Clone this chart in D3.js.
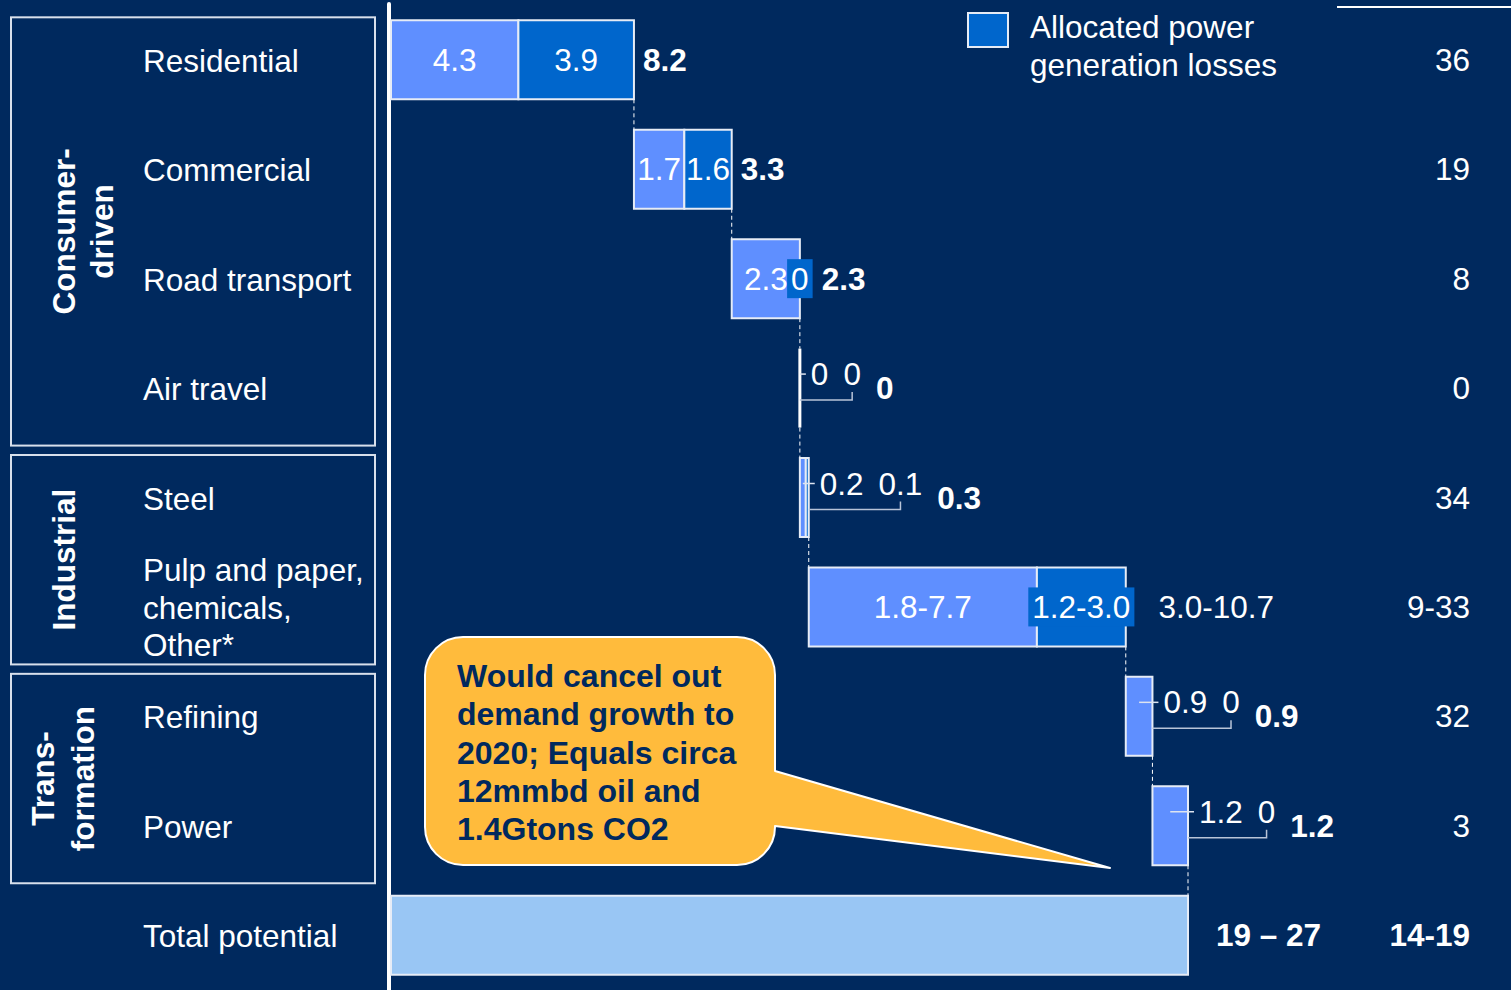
<!DOCTYPE html>
<html>
<head>
<meta charset="utf-8">
<script src="https://cdn.jsdelivr.net/npm/d3@7"></script>
<style>
  html, body { margin: 0; padding: 0; background: #00295E; overflow: hidden; }
  svg { display: block; }
  text { font-family: "Liberation Sans", Arial, Helvetica, sans-serif; }
</style>
</head>
<body>
<svg id="chart" width="1511" height="990"></svg>
<script>
// ---- data ----
const categories = [
  "Residential", "Commercial", "Road transport", "Air travel", "Steel",
  "Pulp and paper,\nchemicals,\nOther*", "Refining", "Power"
];
const directValues    = [4.3, 1.7, 2.3, 0, 0.2, 7.7, 0.9, 1.2];
const directLabels    = ["4.3", "1.7", "2.3", "0", "0.2", "1.8-7.7", "0.9", "1.2"];
const powerLossValues = [3.9, 1.6, 0, 0, 0.1, 3.0, 0, 0];
const powerLossLabels = ["3.9", "1.6", "0", "0", "0.1", "1.2-3.0", "0", "0"];
const rowTotalLabels  = ["8.2", "3.3", "2.3", "0", "0.3", "3.0-10.7", "0.9", "1.2"];
const rightColumn     = ["36", "19", "8", "0", "34", "9-33", "32", "3"];
const totalCategory   = "Total potential";
const totalLabel      = "19 \u2013 27";
const totalRight      = "14-19";
const groupNames      = [["Consumer-", "driven"], ["Industrial"], ["Trans-", "formation"]];
const groupRows       = [[0, 3], [4, 5], [6, 7]];
const legendLines     = ["Allocated power", "generation losses"];
const calloutLines    = ["Would cancel out", "demand growth to", "2020; Equals circa", "12mmbd oil and", "1.4Gtons CO2"];

// ---- styling / layout ----
const BG = "#00295E", LIGHT = "#5F8FFF", DARK = "#0066CC", TOTAL = "#99C6F4";
const CALLOUT = "#FFBB3C", EDGE = "#E6ECF6", FS = 31.5, CALLOUT_FS = 32;
const groupLabelBaselines = [[75, 113], [75], [54, 94]];

const svg = d3.select("#chart");
svg.append("rect").attr("width", 1511).attr("height", 990).attr("fill", BG);

// cumulative starts of the waterfall
const rowTotals = directValues.map((d, i) => d + powerLossValues[i]);
const starts = [];
rowTotals.reduce((acc, v, i) => { starts[i] = acc; return acc + v; }, 0);
const grandTotal = d3.sum(rowTotals);

const x = d3.scaleLinear().domain([0, grandTotal]).range([391, 1188]);
const rows = categories.concat([totalCategory]);
const y = d3.scaleBand().domain(rows).range([5, 990]).paddingInner(0.278).paddingOuter(0.14);
const bw = y.bandwidth();
const cy = r => y(r) + bw / 2;

// vertical axis line
svg.append("line").attr("x1", 389).attr("x2", 389).attr("y1", 4).attr("y2", 992)
  .attr("stroke", "#fff").attr("stroke-width", 4).attr("stroke-linecap", "round");

// top-right rule
svg.append("line").attr("x1", 1337).attr("x2", 1511).attr("y1", 7).attr("y2", 7)
  .attr("stroke", "#fff").attr("stroke-width", 2);

// group boxes and rotated group names
groupRows.forEach(([a, b], gi) => {
  const top = y(categories[a]) - 3;
  const bottom = y(categories[b]) + bw + 18;
  svg.append("rect").attr("x", 11).attr("y", top).attr("width", 364).attr("height", bottom - top)
    .attr("fill", "none").attr("stroke", "#D8E0EC").attr("stroke-width", 2);
  const mid = (top + bottom) / 2;
  groupNames[gi].forEach((line, li) => {
    svg.append("text")
      .attr("transform", `translate(${groupLabelBaselines[gi][li]},${mid}) rotate(-90)`)
      .attr("text-anchor", "middle").attr("fill", "#fff").attr("font-weight", "bold")
      .attr("font-size", FS).text(line);
  });
});

// category labels
rows.forEach(r => {
  const lines = r.split("\n");
  const n = lines.length;
  lines.forEach((line, li) => {
    svg.append("text").attr("x", 143)
      .attr("y", cy(r) + 12 + (li - (n - 1) / 2) * 37.5)
      .attr("fill", "#fff").attr("font-size", FS).text(line);
  });
});

// dashed connectors between consecutive bars
rows.slice(0, -1).forEach((r, i) => {
  const xc = x(starts[i] + rowTotals[i]);
  svg.append("line").attr("x1", xc).attr("x2", xc)
    .attr("y1", y(r) + bw).attr("y2", y(rows[i + 1]))
    .attr("stroke", "#fff").attr("stroke-width", 1).attr("stroke-dasharray", "4,3");
});

function segPath(x0, x1, y0, y1) {
  return `M${x0},${y0}H${x1}V${y1}H${x0}Z`;
}

const textW = sel => sel.node().getComputedTextLength();

// waterfall bars
categories.forEach((r, i) => {
  const y0 = y(r), y1 = y0 + bw, c = cy(r);
  const s = starts[i], a = directValues[i], b = powerLossValues[i];
  const xs = x(s), xm = x(s + a), xe = x(s + a + b);
  const g = svg.append("g");

  if (xe - xs < 0.5) {
    g.append("line").attr("x1", xs).attr("x2", xs).attr("y1", y0).attr("y2", y1)
      .attr("stroke", "#fff").attr("stroke-width", 3);
  } else {
    g.append("path").attr("d", segPath(xs, xm, y0, y1)).attr("fill", LIGHT)
      .attr("stroke", EDGE).attr("stroke-width", 2);
    if (b > 0) {
      g.append("path").attr("d", segPath(xm, xe, y0, y1)).attr("fill", DARK)
        .attr("stroke", EDGE).attr("stroke-width", 2);
    }
  }

  const isRange = rowTotalLabels[i].includes("-");
  if (xe - xs >= 45) {
    // labels inside the bar
    g.append("text").attr("x", (xs + xm) / 2).attr("y", c + 11)
      .attr("text-anchor", "middle").attr("fill", "#fff").attr("font-size", FS)
      .text(directLabels[i]);
    const dc = (xm + xe) / 2;
    const box = g.append("rect").attr("fill", DARK);
    const dt = g.append("text").attr("x", dc).attr("y", c + 11)
      .attr("text-anchor", "middle").attr("fill", "#fff").attr("font-size", FS)
      .text(powerLossLabels[i]);
    const w = textW(dt);
    let right = xe;
    if (w > (xe - xm) + 2) {
      box.attr("x", dc - w / 2 - 4).attr("y", c - 19.5).attr("width", w + 8).attr("height", 39);
      right = Math.max(right, dc + w / 2 + 4);
    } else box.remove();
    g.append("text").attr("x", right + (isRange ? 24 : 9)).attr("y", c + 11)
      .attr("fill", "#fff").attr("font-size", FS)
      .attr("font-weight", isRange ? "normal" : "bold").text(rowTotalLabels[i]);
  } else {
    // labels outside the bar with leader and bracket
    const ly = c - 14;
    g.append("line").attr("x1", (xs + xm) / 2).attr("x2", xe + 6).attr("y1", ly).attr("y2", ly)
      .attr("stroke", "#DDE4F0").attr("stroke-width", 1.5);
    const t1 = g.append("text").attr("x", xe + 11).attr("y", ly + 11)
      .attr("fill", "#fff").attr("font-size", FS).text(directLabels[i]);
    const t1End = xe + 11 + textW(t1);
    const t2 = g.append("text").attr("x", t1End + 15).attr("y", ly + 11)
      .attr("fill", "#fff").attr("font-size", FS).text(powerLossLabels[i]);
    const w2 = textW(t2);
    const bx = t1End + 15 + w2 / 2;
    g.append("path").attr("d", `M${xe},${c + 12}H${bx}V${c + 4}`)
      .attr("fill", "none").attr("stroke", "#B8C4D8").attr("stroke-width", 1.5);
    g.append("text").attr("x", t1End + 15 + w2 + 15).attr("y", c + 11)
      .attr("fill", "#fff").attr("font-size", FS)
      .attr("font-weight", isRange ? "normal" : "bold").text(rowTotalLabels[i]);
  }
});

// total potential bar
{
  const r = totalCategory;
  svg.append("path").attr("d", segPath(x(0), x(grandTotal), y(r), y(r) + bw))
    .attr("fill", TOTAL).attr("stroke", EDGE).attr("stroke-width", 2);
  svg.append("text").attr("x", x(grandTotal) + 28).attr("y", cy(r) + 11)
    .attr("fill", "#fff").attr("font-size", FS).attr("font-weight", "bold").text(totalLabel);
}

// right-hand column
rows.forEach((r, i) => {
  const isTotal = i === categories.length;
  svg.append("text").attr("x", 1470).attr("y", cy(r) + 11).attr("text-anchor", "end")
    .attr("fill", "#fff").attr("font-size", FS)
    .attr("font-weight", isTotal ? "bold" : "normal")
    .text(isTotal ? totalRight : rightColumn[i]);
});

// legend
svg.append("rect").attr("x", 968).attr("y", 13).attr("width", 40).attr("height", 34)
  .attr("fill", DARK).attr("stroke", EDGE).attr("stroke-width", 2);
legendLines.forEach((l, i) => {
  svg.append("text").attr("x", 1030).attr("y", 38 + i * 37.5)
    .attr("fill", "#fff").attr("font-size", FS).text(l);
});

// callout bubble
{
  const L = 425, R = 775, T = 637, B = 865, rr = 38;
  const tip = [1110, 868];
  const d = `M${L + rr},${T}H${R - rr}A${rr},${rr} 0 0 1 ${R},${T + rr}V771` +
            `L${tip[0]},${tip[1]}L${R},826V${B - rr}A${rr},${rr} 0 0 1 ${R - rr},${B}` +
            `H${L + rr}A${rr},${rr} 0 0 1 ${L},${B - rr}V${T + rr}A${rr},${rr} 0 0 1 ${L + rr},${T}Z`;
  svg.append("path").attr("d", d).attr("fill", CALLOUT)
    .attr("stroke", "#fff").attr("stroke-width", 2).attr("stroke-linejoin", "round");
  calloutLines.forEach((l, i) => {
    svg.append("text").attr("x", 457).attr("y", 687 + i * 38.3)
      .attr("fill", BG).attr("font-size", CALLOUT_FS).attr("font-weight", "bold").text(l);
  });
}
</script>
</body>
</html>
